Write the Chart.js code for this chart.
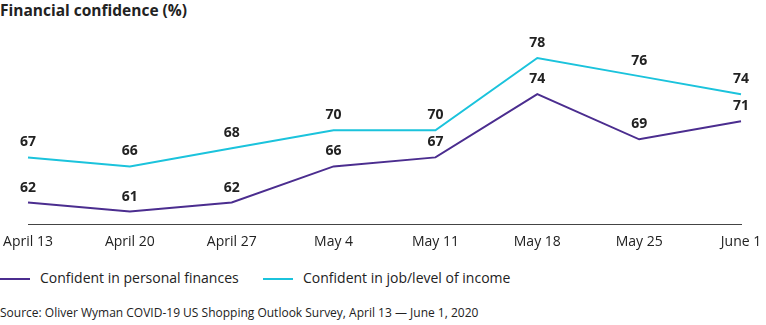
<!DOCTYPE html>
<html>
<head>
<meta charset="utf-8">
<script src="https://cdn.jsdelivr.net/npm/chart.js@4"></script>
<style>
  body { margin: 0; background: #fff; font-family: "Open Sans", sans-serif; color: #222; }
  #wrap { position: relative; width: 766px; height: 325px; overflow: hidden; }
  #title { position: absolute; left: 0; top: 0; font-size: 15.5px; font-weight: 700; line-height: 20px; }
  #chart_box { position: absolute; left: 0; top: 20px; width: 766px; height: 239px; }
  .leg { position: absolute; top: 269px; font-size: 14px; line-height: 18px; }
  .leg i { position: absolute; top: 9px; width: 30px; height: 2px; }
  .leg span { position: absolute; left: 40px; white-space: nowrap; }
  #source { position: absolute; left: 0; top: 305px; font-size: 12px; line-height: 16px; }
</style>
</head>
<body>
<div id="wrap">
  <div id="title">Financial confidence (%)</div>
  <div id="chart_box"><canvas id="chart_canvas" width="766" height="239"></canvas></div>
  <div class="leg" style="left:0"><i style="background:#4B2D8F"></i><span>Confident in personal finances</span></div>
  <div class="leg" style="left:263px"><i style="background:#1BC3DC"></i><span>Confident in job/level of income</span></div>
  <div id="source">Source: Oliver Wyman COVID-19 US Shopping Outlook Survey, April 13 — June 1, 2020</div>
</div>
<script>
// the numbers
const weeks = ["April 13", "April 20", "April 27", "May 4", "May 11", "May 18", "May 25", "June 1"];
const personal = [62, 61, 62, 66, 67, 74, 69, 71];
const job_income = [67, 66, 68, 70, 70, 78, 76, 74];

const purple = "#4B2D8F";
const cyan = "#1BC3DC";

// value labels above the points
const value_labels = {
  id: "value_labels",
  afterDatasetsDraw(chart) {
    const ctx = chart.ctx;
    ctx.save();
    ctx.font = "bold 14px 'Open Sans', sans-serif";
    ctx.fillStyle = "#222";
    ctx.textAlign = "center";
    ctx.textBaseline = "middle";
    chart.data.datasets.forEach((ds, i) => {
      chart.getDatasetMeta(i).data.forEach((pt, j) => {
        ctx.fillText(ds.data[j], pt.x, pt.y - 15);
      });
    });
    ctx.restore();
  }
};

new Chart(document.getElementById("chart_canvas").getContext("2d"), {
  type: "line",
  data: {
    labels: weeks,
    datasets: [
      { label: "Confident in personal finances", data: personal, borderColor: purple, borderWidth: 2, pointRadius: 0, tension: 0, fill: false },
      { label: "Confident in job/level of income", data: job_income, borderColor: cyan, borderWidth: 2, pointRadius: 0, tension: 0, fill: false }
    ]
  },
  options: {
    responsive: false,
    animation: false,
    layout: { padding: { top: 20, left: 0, right: 0, bottom: 0 } },
    plugins: { legend: { display: false }, tooltip: { enabled: false } },
    scales: {
      x: {
        offset: false,
        grid: { display: false, drawTicks: false },
        border: { display: true, color: "#444", width: 1 },
        ticks: { color: "#222", font: { family: "'Open Sans', sans-serif", size: 14 }, padding: 9, maxRotation: 0, autoSkip: false },
        // pin the first/last point where the original has them
        afterFit: s => { s.paddingLeft = 28; s.paddingRight = 25; }
      },
      y: { display: false, min: 59.6, max: 80 }
    }
  },
  plugins: [value_labels]
});
</script>
</body>
</html>
